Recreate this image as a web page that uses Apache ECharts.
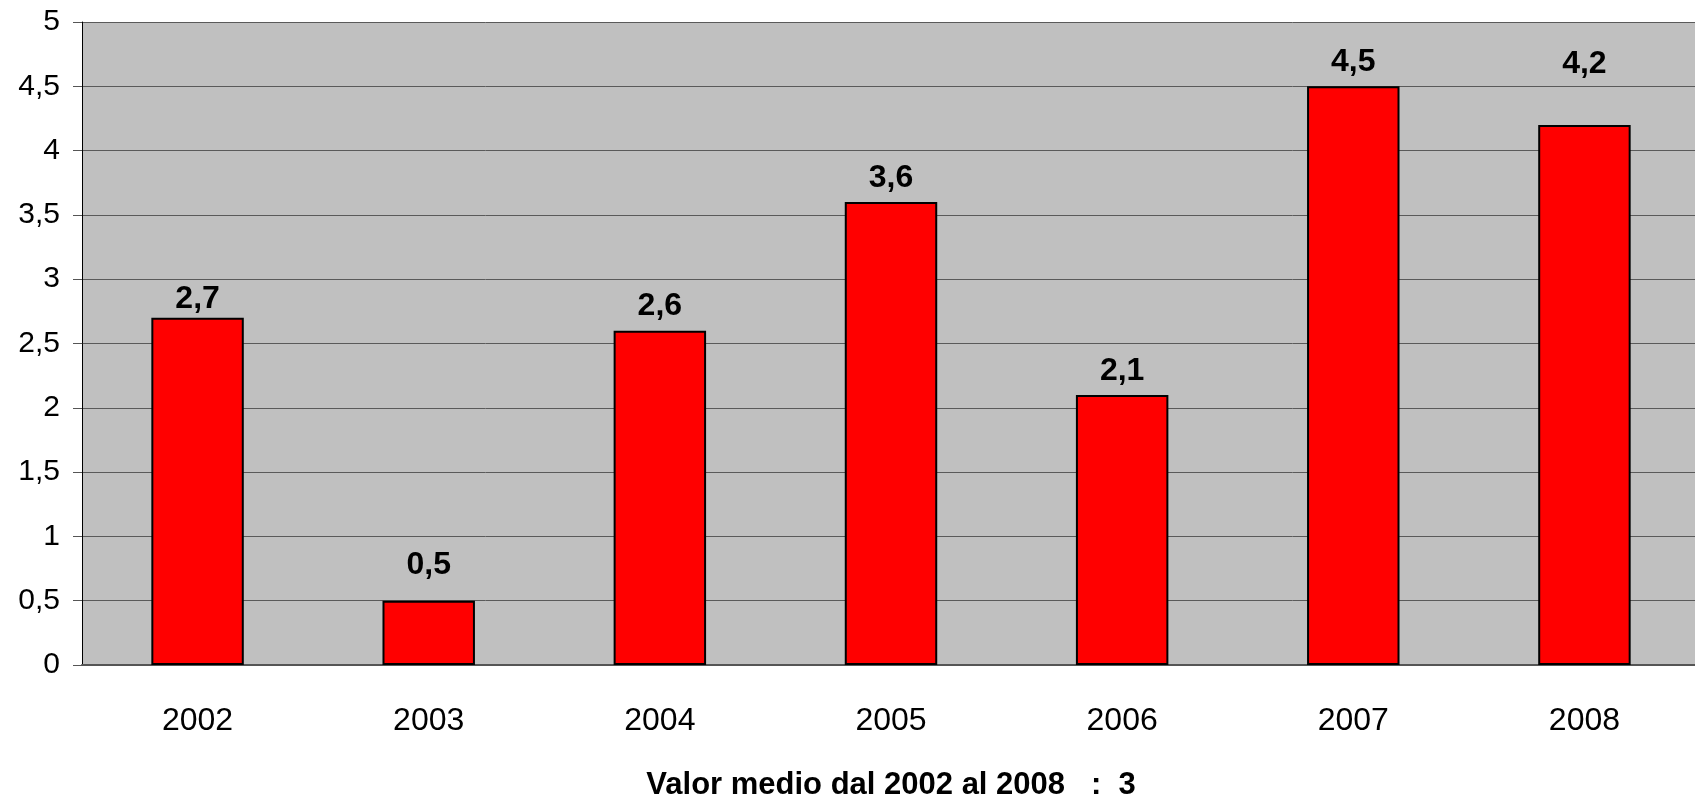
<!DOCTYPE html>
<html>
<head>
<meta charset="utf-8">
<script src="https://cdn.jsdelivr.net/npm/echarts@6/dist/echarts.min.js"></script>
<style>
	html, body { margin: 0; padding: 0; background: #fff; }
	#chart { width: 1695px; height: 806px; }
</style>
</head>
<body>
<div id="chart"></div>
<script>
const years = ['2002', '2003', '2004', '2005', '2006', '2007', '2008']
const values = [2.7, 0.5, 2.6, 3.6, 2.1, 4.5, 4.2]
// extra lift of some value labels, as placed in the original
const labelLift = [-5, 12, 0, 0, 0, 0, 37]
const footNote = 'Valor medio dal 2002 al 2008   :  3'

const sans = "'Liberation Sans', Arial, sans-serif"
const comma = v => String(v).replace('.', ',')

const chart = echarts.init(document.getElementById('chart'))

chart.setOption({
	animation: false,
	backgroundColor: '#fff',
	grid: {
		left: 82,
		right: -5,
		top: 22,
		bottom: 141,
		outerBoundsMode: 'none',
		containLabel: false,
		show: true,
		backgroundColor: '#c0c0c0',
		borderWidth: 0
	},
	xAxis: {
		type: 'category',
		data: years,
		name: footNote,
		nameLocation: 'middle',
		nameGap: 105,
		nameTextStyle: {
			fontFamily: sans,
			fontWeight: 'bold',
			fontSize: 31,
			color: '#000'
		},
		axisLine: { lineStyle: { color: '#555', width: 2 } },
		axisTick: { length: 11, lineStyle: { color: '#555' } },
		axisLabel: {
			margin: 40,
			color: '#000',
			fontFamily: sans,
			fontSize: 32
		}
	},
	yAxis: {
		type: 'value',
		min: 0,
		max: 5,
		interval: 0.5,
		axisLine: { show: true, lineStyle: { color: '#000', width: 1 } },
		axisTick: { show: true, length: 9, lineStyle: { color: '#555' } },
		splitLine: { lineStyle: { color: '#5a5a5a', width: 1 } },
		axisLabel: {
			margin: 22,
			color: '#000',
			fontFamily: sans,
			fontSize: 30,
			formatter: v => comma(v)
		}
	},
	series: [{
		type: 'bar',
		barWidth: '40%',
		data: values.map((v, i) => ({
			value: v,
			label: { distance: 11 + labelLift[i] }
		})),
		itemStyle: {
			color: '#ff0000',
			borderColor: '#000',
			borderWidth: 2
		},
		label: {
			show: true,
			position: 'top',
			color: '#000',
			fontFamily: sans,
			fontWeight: 'bold',
			fontSize: 32,
			lineHeight: 26,
			formatter: p => comma(p.value)
		}
	}]
})
</script>
</body>
</html>
